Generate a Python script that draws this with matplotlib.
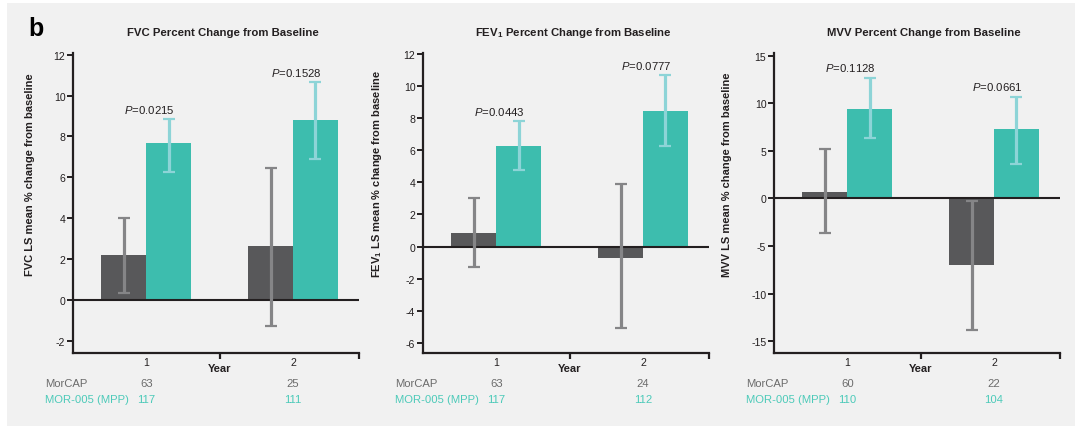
import matplotlib
matplotlib.use('Agg')
import matplotlib.pyplot as plt
import matplotlib.transforms as mtransforms
from matplotlib.patches import Rectangle

plt.rcParams['font.family'] = ['Liberation Sans', 'DejaVu Sans']
plt.rcParams['mathtext.fontset'] = 'custom'
plt.rcParams['mathtext.rm'] = 'Liberation Sans'
plt.rcParams['mathtext.it'] = 'Liberation Sans:italic'
plt.rcParams['mathtext.bf'] = 'Liberation Sans:bold'
plt.rcParams['axes.unicode_minus'] = False

# ---------------- data ----------------
years = [1, 2]
year_labels = ['1', '2']
group_names = ['MorCAP', 'MOR-005 (MPP)']

titles = ['FVC Percent Change from Baseline',
          r'FEV$_{\mathbf{1}}$ Percent Change from Baseline',
          'MVV Percent Change from Baseline']
ylabels = ['FVC LS mean % change from baseline',
           r'FEV$_{\mathbf{1}}$ LS mean % change from baseline',
           'MVV LS mean % change from baseline']

# FVC
fvc_morcap = [2.2, 2.65]
fvc_morcap_lo = [0.35, -1.25]
fvc_morcap_hi = [4.0, 6.45]
fvc_mpp = [7.7, 8.8]
fvc_mpp_lo = [6.25, 6.9]
fvc_mpp_hi = [8.85, 10.65]
fvc_p = ['0.0215', '0.1528']
fvc_n_morcap = ['63', '25']
fvc_n_mpp = ['117', '111']
fvc_yticks = [-2, 0, 2, 4, 6, 8, 10, 12]

# FEV1
fev_morcap = [0.85, -0.7]
fev_morcap_lo = [-1.25, -5.1]
fev_morcap_hi = [3.05, 3.9]
fev_mpp = [6.25, 8.45]
fev_mpp_lo = [4.75, 6.25]
fev_mpp_hi = [7.8, 10.7]
fev_p = ['0.0443', '0.0777']
fev_n_morcap = ['63', '24']
fev_n_mpp = ['117', '112']
fev_yticks = [-6, -4, -2, 0, 2, 4, 6, 8, 10, 12]

# MVV
mvv_morcap = [0.7, -7.0]
mvv_morcap_lo = [-3.65, -13.8]
mvv_morcap_hi = [5.2, -0.3]
mvv_mpp = [9.45, 7.35]
mvv_mpp_lo = [6.35, 3.65]
mvv_mpp_hi = [12.7, 10.7]
mvv_p = ['0.1128', '0.0661']
mvv_n_morcap = ['60', '22']
mvv_n_mpp = ['110', '104']
mvv_yticks = [-15, -10, -5, 0, 5, 10, 15]

panels = [
    dict(m=fvc_morcap, mlo=fvc_morcap_lo, mhi=fvc_morcap_hi,
         p=fvc_mpp, plo=fvc_mpp_lo, phi=fvc_mpp_hi, pv=fvc_p,
         nm=fvc_n_morcap, np_=fvc_n_mpp, yt=fvc_yticks),
    dict(m=fev_morcap, mlo=fev_morcap_lo, mhi=fev_morcap_hi,
         p=fev_mpp, plo=fev_mpp_lo, phi=fev_mpp_hi, pv=fev_p,
         nm=fev_n_morcap, np_=fev_n_mpp, yt=fev_yticks),
    dict(m=mvv_morcap, mlo=mvv_morcap_lo, mhi=mvv_morcap_hi,
         p=mvv_mpp, plo=mvv_mpp_lo, phi=mvv_mpp_hi, pv=mvv_p,
         nm=mvv_n_morcap, np_=mvv_n_mpp, yt=mvv_yticks),
]

# ---------------- style ----------------
W, H = 1075, 427
BG = '#f1f1f1'
DARK = '#58585a'
DARK_ERR = '#858587'
TEAL = '#3dbdae'
TEAL_ERR = '#8dd4d7'
TXT_GRAY = '#6b6b6b'
TXT_TEAL = '#4ccab9'
AX = '#231f20'

# axes boxes in pixels (left, right, top, bottom) and y-limits
boxes = [(73, 359, 53.5, 353.5), (423, 709, 53.5, 353.5), (774, 1060, 53.5, 353.5)]
ylims = [(-2.55, 12.1), (-6.61, 12.1), (-16.2, 15.35)]
ylabel_x = [-0.133, -0.136, -0.147]

fig = plt.figure(figsize=(W / 100, H / 100), dpi=100, facecolor='white')
fig.patches.append(Rectangle((7 / W, 0), 1 - 7 / W, 1 - 4 / H, transform=fig.transFigure,
                             facecolor=BG, edgecolor='none', zorder=-10))

for i, (d, box, yl) in enumerate(zip(panels, boxes, ylims)):
    l, r, t, b = box
    ax = fig.add_axes([l / W, 1 - b / H, (r - l) / W, (b - t) / H])
    ax.set_facecolor('none')
    xm = [x - 0.1525 for x in years]
    xp = [x + 0.1525 for x in years]
    ax.bar(xm, d['m'], width=0.307, color=DARK, zorder=2, linewidth=0)
    ax.bar(xp, d['p'], width=0.307, color=TEAL, zorder=2, linewidth=0)
    ax.axhline(0, color=AX, lw=1.5, zorder=3)
    ax.errorbar(xm, d['m'], yerr=[[v - lo for v, lo in zip(d['m'], d['mlo'])],
                                  [hi - v for v, hi in zip(d['m'], d['mhi'])]],
                fmt='none', ecolor=DARK_ERR, elinewidth=2.3, capsize=4.6, capthick=1.6, zorder=4)
    ax.errorbar(xp, d['p'], yerr=[[v - lo for v, lo in zip(d['p'], d['plo'])],
                                  [hi - v for v, hi in zip(d['p'], d['phi'])]],
                fmt='none', ecolor=TEAL_ERR, elinewidth=2.3, capsize=4.6, capthick=1.6, zorder=4)
    for x, hi, pv in zip(years, d['phi'], d['pv']):
        ax.annotate(r'$\mathit{P}$=' + pv, xy=(x + 0.02, hi), xytext=(0, 4.5),
                    textcoords='offset points', ha='center', va='baseline',
                    fontsize=8.2, color='#231f20')

    ax.set_xlim(0.5, 2.45)
    ax.set_ylim(*yl)
    ax.set_yticks(d['yt'])
    ax.set_yticklabels([str(v) for v in d['yt']])
    ax.set_xticks(years)
    ax.set_xticklabels(year_labels)
    ax.set_xticks([1.5, 2.45], minor=True)
    ax.tick_params(axis='x', which='major', length=0, pad=3, labelsize=7.6, colors='#231f20')
    ax.tick_params(axis='x', which='minor', length=4, width=1.6, color=AX, direction='out')
    ax.tick_params(axis='y', length=4, width=1.4, color=AX, pad=1.5, labelsize=7.6,
                   labelcolor='#231f20')
    for s in ['top', 'right']:
        ax.spines[s].set_visible(False)
    for s in ['left', 'bottom']:
        ax.spines[s].set_color(AX)
        ax.spines[s].set_linewidth(1.6)

    ax.set_ylabel(ylabels[i], fontsize=8, fontweight='bold', color='#231f20')
    ax.yaxis.set_label_coords(ylabel_x[i], 0.597)

    ax.text(0.5 + 7 / (r - l), 1.057, titles[i], transform=ax.transAxes, ha='center',
            va='baseline', fontsize=8.2, fontweight='bold', color='#231f20')

    trans = mtransforms.blended_transform_factory(ax.transData, ax.transAxes)
    ax.text(1.5, -0.05, 'Year', transform=trans, ha='center', va='center',
            fontsize=8, fontweight='bold', color='#231f20')
    ax.text(-28 / (r - l), -0.102, group_names[0], transform=ax.transAxes, ha='left',
            va='center', fontsize=8.1, color=TXT_GRAY)
    ax.text(-28 / (r - l), -0.155, group_names[1], transform=ax.transAxes, ha='left',
            va='center', fontsize=8.1, color=TXT_TEAL)
    for x, nm, npp in zip(years, d['nm'], d['np_']):
        ax.text(x, -0.102, nm, transform=trans, ha='center', va='center',
                fontsize=8.1, color=TXT_GRAY)
        ax.text(x, -0.155, npp, transform=trans, ha='center', va='center',
                fontsize=8.1, color=TXT_TEAL)

fig.text(28 / W, 1 - 36.5 / H, 'b', fontsize=18, fontweight='bold', color='#000000',
         ha='left', va='baseline')

fig.savefig('out.png', dpi=100, facecolor=fig.get_facecolor())
